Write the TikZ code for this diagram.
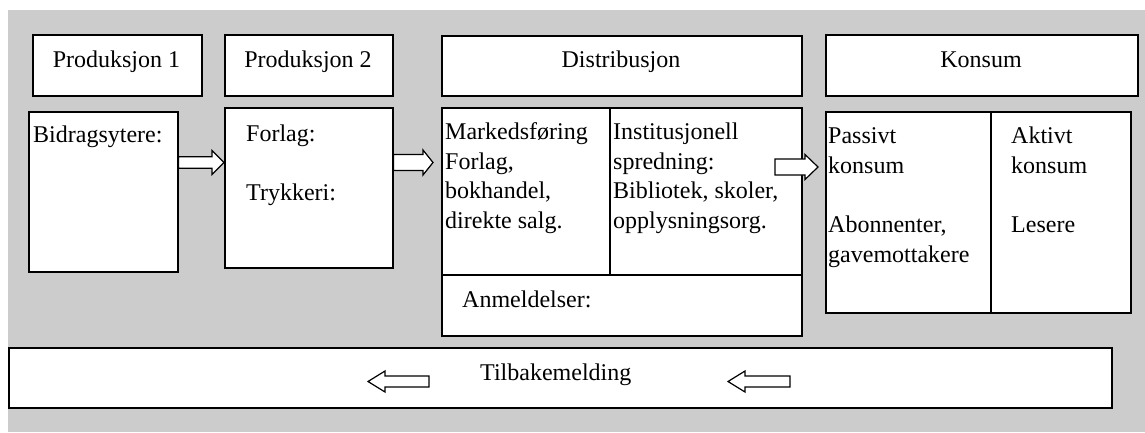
\documentclass[tikz,border=0pt]{standalone}
\usepackage{fontspec}
\setmainfont{Liberation Serif}
\usetikzlibrary{calc}
\definecolor{PanelGray}{HTML}{CCCCCC}
\tikzset{
  panel/.style={rectangle, draw=black, fill=white, line width=1.6pt, anchor=north west, inner sep=0pt},
  bodytext/.style={inner sep=0pt, font=\fontsize{24}{29.5}\selectfont, align=left, anchor=base west},
  headtext/.style={inner sep=0pt, font=\fontsize{24}{29.5}\selectfont, anchor=base},
  fatarrow/.style n args={3}{draw=black, fill=white, line width=1.2pt, line join=miter,
    to path={($(\tikztostart)+(0,#3)$) -- ($(\tikztotarget)!#1!(\tikztostart)+(0,#3)$)
      -- ($(\tikztotarget)!#1!(\tikztostart)+(0,#2)$) -- (\tikztotarget)
      -- ($(\tikztotarget)!#1!(\tikztostart)+(0,-#2)$) -- ($(\tikztotarget)!#1!(\tikztostart)+(0,-#3)$)
      -- ($(\tikztostart)+(0,-#3)$) -- cycle}}
}
\begin{document}
\begin{tikzpicture}[x=1pt, y=-1pt]
  % page and gray panel
  \fill[white] (0,0) rectangle (1145,432);
  \fill[PanelGray] (8,10) rectangle (1145,432);
  \useasboundingbox (0,0) rectangle (1145,432);

  % Headers
  \node[panel, minimum width=169pt, minimum height=61pt] (prod1head) at (32,34) {};
  \node[panel, minimum width=168pt, minimum height=61pt] (prod2head) at (224,34) {};
  \node[panel, minimum width=360pt, minimum height=60pt] (distrhead) at (441,35) {};
  \node[panel, minimum width=312pt, minimum height=61pt] (konsumhead) at (825,34) {};
  \node[headtext] (prod1txt) at (116.5,67) {Produksjon 1};
  \node[headtext] (prod2txt) at (308,67) {Produksjon 2};
  \node[headtext] (distrtxt) at (621,67) {Distribusjon};
  \node[headtext] (konsumtxt) at (981,67) {Konsum};

  % Boxes
  \node[panel, minimum width=149pt, minimum height=160pt] (bidrag) at (28,111) {};
  \node[panel, minimum width=168pt, minimum height=160pt] (forlag) at (224,107) {};
  \node[panel, minimum width=168pt, minimum height=167pt] (marked) at (441,107) {};
  \node[panel, minimum width=192pt, minimum height=167pt] (instit) at (609,107) {};
  \node[panel, minimum width=360pt, minimum height=61pt] (anmeld) at (441,274) {};
  \node[panel, minimum width=165pt, minimum height=201pt] (passiv) at (825,111) {};
  \node[panel, minimum width=140pt, minimum height=201pt] (aktiv) at (990,111) {};
  \node[panel, minimum width=1103pt, minimum height=60pt] (tilbake) at (8,347) {};

  % Texts (base = last line)
  \node[bodytext] (bidragtxt) at (33,142) {Bidragsytere:};
  \node[bodytext] (forlagtxt) at (246,200) {Forlag:\\[29pt]Trykkeri:};
  \node[bodytext] (markedtxt) at (445,228) {Markedsføring\\Forlag,\\bokhandel,\\direkte salg.};
  \node[bodytext] (instittxt) at (613,228) {Institusjonell\\spredning:\\Bibliotek, skoler,\\opplysningsorg.};
  \node[bodytext] (anmeldtxt) at (462,307) {Anmeldelser:};
  \node[bodytext] (passivtxt) at (828,262) {Passivt\\konsum\\[30pt]Abonnenter,\\gavemottakere};
  \node[bodytext] (aktivtxt) at (1011,232.5) {Aktivt\\konsum\\[30pt]Lesere};
  \node[bodytext] (tilbaketxt) at (480,380) {Tilbakemelding};

  % Arrows
  \coordinate (a1s) at (bidrag.east |- 0,162.5);
  \coordinate (a1e) at (forlag.west |- 0,162.5);
  \coordinate (a2s) at (forlag.east |- 0,162.5);
  \coordinate (a2e) at (433,162.5);
  \coordinate (a3s) at (775,167);
  \coordinate (a3e) at (818,167);
  \coordinate (b1s) at (429,381.5);
  \coordinate (b1e) at (368,381.5);
  \coordinate (b2s) at (790,381.5);
  \coordinate (b2e) at (728,381.5);
  \draw[fatarrow={12pt}{12}{5.8}] (a1s) to (a1e);
  \draw[fatarrow={10pt}{12.5}{8}] (a2s) to (a2e);
  \draw[fatarrow={13pt}{12.5}{8}] (a3s) to (a3e);
  \draw[fatarrow={17pt}{10.5}{5.5}] (b1s) to (b1e);
  \draw[fatarrow={17pt}{10.5}{5.5}] (b2s) to (b2e);
\end{tikzpicture}
\end{document}
